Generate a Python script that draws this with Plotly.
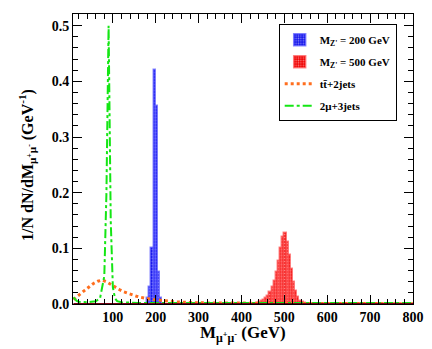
import plotly.graph_objects as go

# --- data (1/N dN/dM, GeV) ---
bin_width = 5

zp200_left_edges = [180, 185, 190, 195, 200, 205, 210]
zp200_values = [0.010, 0.030, 0.100, 0.420, 0.355, 0.057, 0.010]

zp500_left_edges = [435, 440, 445, 450, 455, 460, 465, 470, 475, 480, 485, 490,
                    495, 500, 505, 510, 515, 520, 525, 530, 535, 540, 545]
zp500_values = [0.002, 0.003, 0.005, 0.007, 0.010, 0.015, 0.021, 0.030, 0.042,
                0.058, 0.078, 0.100, 0.120, 0.128, 0.112, 0.088, 0.062, 0.040,
                0.024, 0.013, 0.006, 0.003, 0.001]

ttbar_mass = [8, 15, 25, 35, 45, 55, 65, 75, 85, 95, 105, 115, 125, 135, 145,
              155, 165, 175, 185, 195, 205, 215, 225, 235, 245, 255, 265, 275,
              285, 295, 320, 340, 360, 380, 400, 440, 480, 520, 560, 600, 650,
              700, 750, 800]
ttbar_values = [0.008, 0.012, 0.018, 0.025, 0.031, 0.037, 0.041, 0.043, 0.040,
                0.035, 0.030, 0.026, 0.022, 0.019, 0.016, 0.014, 0.012, 0.010,
                0.009, 0.008, 0.007, 0.006, 0.005, 0.0045, 0.004, 0.0035, 0.003,
                0.0028, 0.0025, 0.0022, 0.002, 0.0018, 0.0016, 0.0015, 0.0014,
                0.0012, 0.001, 0.001, 0.0009, 0.0008, 0.0008, 0.0007, 0.0006,
                0.0006]

dimu_mass = [8, 15, 20, 30, 40, 50, 60, 70, 80, 85, 90, 95, 100, 105, 110, 120,
             140, 160, 200, 250, 300, 400, 500, 600, 700, 800]
dimu_values = [0.012, 0.006, 0.004, 0.003, 0.003, 0.004, 0.005, 0.010, 0.050,
               0.200, 0.500, 0.150, 0.030, 0.010, 0.005, 0.003, 0.002, 0.002,
               0.002, 0.002, 0.002, 0.002, 0.002, 0.002, 0.002, 0.002]

x_ticks = [100, 200, 300, 400, 500, 600, 700, 800]
y_ticks = [0.0, 0.1, 0.2, 0.3, 0.4, 0.5]

x_title = "M<sub>\u03bc<sup>+</sup>\u03bc<sup>-</sup></sub> (GeV)"
y_title = "1/N dN/dM<sub>\u03bc<sup>+</sup>\u03bc<sup>-</sup></sub> (GeV<sup>-1</sup>)"

SERIF = "Liberation Serif"

fig = go.Figure()

fig.add_trace(go.Bar(
    x=[e + bin_width / 2 for e in zp200_left_edges], y=zp200_values, width=bin_width,
    name="M<sub>Z'</sub> = 200 GeV", legendgroup="a",
    marker=dict(color="rgb(20,20,235)",
                line=dict(color="rgba(90,90,255,0.7)", width=1.5),
                pattern=dict(shape=".", fgcolor="white", size=3, solidity=0.3,
                             fillmode="overlay")),
))
fig.add_trace(go.Bar(
    x=[e + bin_width / 2 for e in zp500_left_edges], y=zp500_values, width=bin_width,
    name="M<sub>Z'</sub> = 500 GeV", legendgroup="b",
    marker=dict(color="rgb(240,0,0)",
                line=dict(color="rgba(255,90,90,0.7)", width=1.5),
                pattern=dict(shape=".", fgcolor="white", size=3, solidity=0.3,
                             fillmode="overlay")),
))
fig.add_trace(go.Scatter(
    x=ttbar_mass, y=ttbar_values, mode="lines", name="tt\u0304+2jets",
    legendgroup="c", line=dict(color="rgb(255,110,30)", width=3, dash="dot"),
))
fig.add_trace(go.Scatter(
    x=dimu_mass, y=dimu_values, mode="lines", name="2\u03bc+3jets",
    legendgroup="d", line=dict(color="rgb(20,230,20)", width=2, dash="dashdot"),
))
# dark baseline of the histograms along zero
fig.add_trace(go.Scatter(
    x=[dimu_mass[0], dimu_mass[-1]], y=[0, 0], mode="lines", showlegend=False,
    line=dict(color="rgb(120,0,20)", width=2),
))

axis_common = dict(
    showgrid=False, zeroline=False, showline=True, linecolor="black", linewidth=1,
    mirror="ticks", ticks="inside", ticklen=9, tickcolor="black", automargin=False,
    tickfont=dict(family=SERIF, size=14, color="black", weight="bold"),
    minor=dict(ticks="inside", ticklen=5, tickcolor="black"),
)

fig.update_xaxes(range=[7, 800], tickvals=x_ticks, minor_dtick=20, **axis_common)
fig.update_yaxes(range=[0, 0.521], tickvals=y_ticks, tickformat=".1f",
                 minor_dtick=0.02, **axis_common)

# axis titles placed as annotations so they sit where the reference has them
fig.add_annotation(text=x_title, xref="paper", yref="paper", x=0.5, y=-0.105,
                   xanchor="center", yanchor="middle", showarrow=False,
                   font=dict(family=SERIF, size=17, color="black", weight="bold"))
fig.add_annotation(text=y_title, xref="paper", yref="paper", x=-0.135, y=0.48,
                   xanchor="center", yanchor="middle", showarrow=False, textangle=-90,
                   font=dict(family=SERIF, size=16, color="black", weight="bold"))

# page body has an 8px margin, so the figure is a bit smaller than the window
fig.update_layout(
    width=424, height=341,
    margin=dict(l=65, r=19, t=6, b=45),
    paper_bgcolor="white", plot_bgcolor="white",
    barmode="overlay", bargap=0,
    showlegend=True,
    legend=dict(
        x=0.605, y=0.965, xanchor="left", yanchor="top",
        bgcolor="white", bordercolor="black", borderwidth=1,
        font=dict(family=SERIF, size=11, color="black", weight="bold"),
        tracegroupgap=3, itemwidth=30,
    ),
)

fig.write_html("out.html")
